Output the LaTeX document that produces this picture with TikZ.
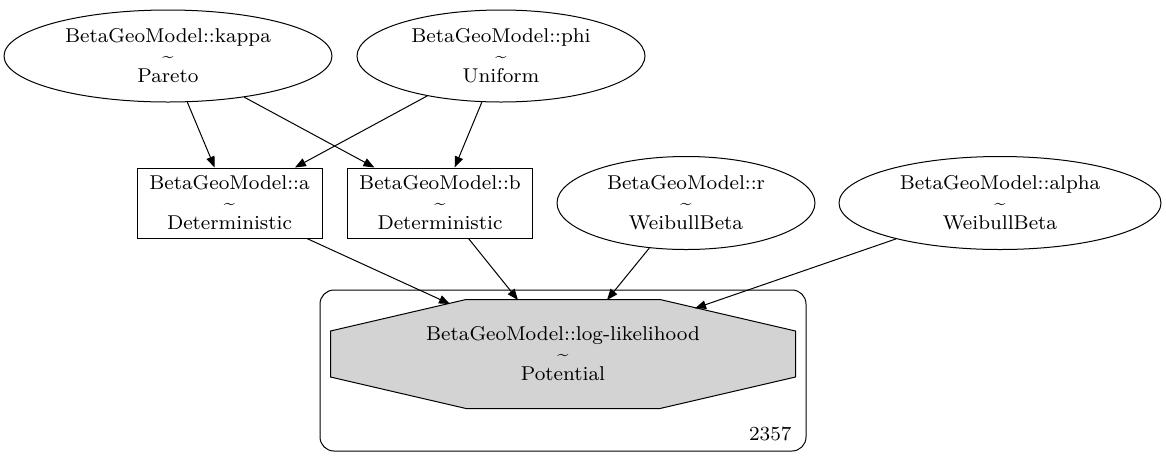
\documentclass[tikz,border=0pt]{standalone}
\usepackage{fontspec}
\setmainfont{lmroman8-regular.otf}
\usepackage{tikz}
\usetikzlibrary{arrows.meta,shapes.geometric}
\definecolor{potgray}{RGB}{211,211,211}

\tikzset{
	rv/.style={draw, ellipse, inner sep=0pt, minimum height=92pt, align=center},
	det/.style={draw, rectangle, inner sep=0pt, minimum width=185pt, minimum height=70pt, align=center},
	pot/.style={rectangle, minimum width=464pt, minimum height=108pt, inner sep=0pt, align=center},
	edge/.style={-{Triangle[length=11pt,width=8.5pt]}}
}
\newcommand{\tl}{\textasciitilde}

\begin{document}
\begin{tikzpicture}[x=1pt, y=-1pt, line width=1pt, font=\fontsize{20}{20}\selectfont]
			\useasboundingbox (0,0) rectangle (1166,467);
			% plate
			\node[draw, rounded corners=14pt, minimum width=486pt, minimum height=161pt, inner sep=0pt] (plate) at (563,370.5) {};
			\node[anchor=base east, inner sep=0pt] (count) at (792,440) {2357};
			% top level
			\node[rv, minimum width=328pt] (kappa) at (168,56) {BetaGeoModel::kappa\\\tl\\Pareto};
			\node[rv, minimum width=288pt] (phi) at (501,56) {BetaGeoModel::phi\\\tl\\Uniform};
			% second level
			\node[det] (a) at (229.5,203) {BetaGeoModel::a\\\tl\\Deterministic};
			\node[det] (b) at (440,203) {BetaGeoModel::b\\\tl\\Deterministic};
			\node[rv, minimum width=258pt, minimum height=93pt] (r) at (686,203) {BetaGeoModel::r\\\tl\\WeibullBeta};
			\node[rv, minimum width=322pt, minimum height=93pt] (alpha) at (1000,203) {BetaGeoModel::alpha\\\tl\\WeibullBeta};
			% potential (octagon)
			\node[pot] (ll) at (563,354) {};
			\draw[fill=potgray] ([xshift=-97pt]ll.north) -- ([xshift=97pt]ll.north) -- ([yshift=23pt]ll.east) -- ([yshift=-23pt]ll.east)
				-- ([xshift=97pt]ll.south) -- ([xshift=-97pt]ll.south) -- ([yshift=-23pt]ll.west) -- ([yshift=23pt]ll.west) -- cycle;
			\node[align=center, inner sep=0pt] (lltext) at (ll.center) {BetaGeoModel::log-likelihood\\\tl\\Potential};
			\coordinate (ll-a) at (450,304);
			\coordinate (ll-b) at (518,300);
			\coordinate (ll-r) at (607,300);
			\coordinate (ll-alpha) at (695,308.3);
			% edges
			\draw[edge] (kappa) -- (a);
			\draw[edge] (kappa) -- (b);
			\draw[edge] (phi) -- (a);
			\draw[edge] (phi) -- (b);
			\draw[edge] (a) -- (ll-a);
			\draw[edge] (b) -- (ll-b);
			\draw[edge] (r) -- (ll-r);
			\draw[edge] (alpha) -- (ll-alpha);
\end{tikzpicture}
\end{document}
